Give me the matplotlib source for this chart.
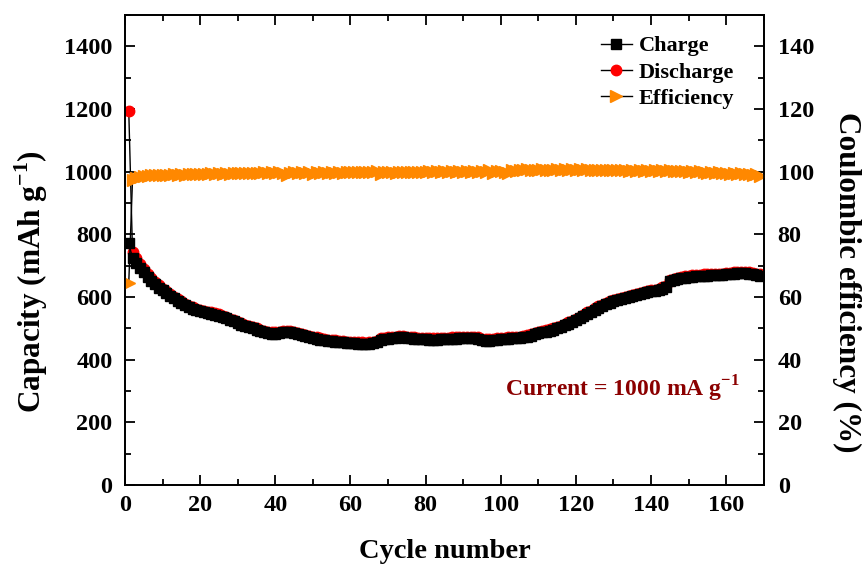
import matplotlib
matplotlib.use('Agg')
import matplotlib.pyplot as plt
from matplotlib.ticker import MultipleLocator
import numpy as np

plt.rcParams['font.family'] = ['Liberation Serif', 'DejaVu Serif']
plt.rcParams['font.weight'] = 'bold'
plt.rcParams['mathtext.fontset'] = 'custom'
plt.rcParams['mathtext.rm'] = 'Liberation Serif:bold'
plt.rcParams['mathtext.bf'] = 'Liberation Serif:bold'

# cycle-wise values
charge = [771, 725, 710, 693, 680, 665, 652, 641, 630, 621,
          612, 604, 596, 588, 581, 574, 568, 563, 559, 555,
          552, 549, 547, 544, 541, 537, 532, 527, 522, 517,
          512, 508, 504, 500, 496, 492, 488, 485, 483, 483,
          485, 487, 488, 487, 485, 482, 479, 476, 473, 470,
          467, 464, 462, 460, 459, 458, 456, 455, 454, 453,
          452, 451, 451, 450, 451, 453, 455, 464, 466, 467,
          468, 470, 471, 471, 469, 468, 467, 466, 466, 465,
          464, 464, 464, 465, 466, 466, 467, 467, 468, 468,
          469, 470, 469, 467, 463, 461, 461, 462, 464, 465,
          466, 467, 468, 469, 470, 471, 474, 477, 482, 486,
          488, 490, 493, 496, 500, 505, 510, 515, 521, 527,
          533, 540, 547, 553, 560, 566, 572, 577, 582, 586,
          590, 594, 597, 600, 604, 607, 610, 612, 615, 618,
          620, 623, 627, 632, 650, 655, 658, 660, 662, 663,
          665, 666, 667, 668, 668, 669, 669, 670, 671, 672,
          673, 675, 676, 677, 677, 675, 673, 670, 668]

discharge = [1195, 745, 724, 704, 690, 674, 660, 648, 637, 627,
             618, 610, 601, 593, 586, 579, 573, 568, 563, 559,
             556, 553, 551, 548, 545, 541, 536, 531, 526, 521,
             516, 512, 508, 504, 500, 496, 492, 489, 487, 487,
             489, 491, 492, 491, 489, 486, 483, 480, 477, 474,
             471, 468, 466, 464, 463, 462, 460, 459, 458, 457,
             456, 455, 455, 454, 455, 457, 459, 468, 470, 471,
             472, 474, 475, 475, 473, 472, 471, 470, 470, 469,
             468, 468, 468, 469, 470, 470, 471, 471, 472, 472,
             473, 474, 473, 471, 467, 465, 465, 466, 468, 469,
             470, 471, 472, 473, 474, 475, 478, 481, 486, 490,
             492, 494, 497, 500, 504, 509, 514, 519, 525, 531,
             537, 544, 551, 557, 564, 570, 576, 581, 586, 590,
             594, 598, 601, 604, 608, 611, 614, 616, 619, 622,
             624, 627, 631, 636, 654, 659, 662, 664, 666, 667,
             669, 670, 671, 672, 672, 673, 673, 674, 675, 676,
             677, 679, 680, 681, 681, 679, 677, 674, 672]

efficiency = [64.5, 97.3, 98.0, 98.4, 98.6, 98.7, 98.8, 98.9, 98.9, 99.0,
              99.1, 98.9, 99.2, 99.0, 99.3, 99.1, 99.3, 99.2, 99.4, 99.2,
              99.4, 99.3, 99.5, 99.3, 99.5, 99.4, 99.6, 99.4, 99.6, 99.5,
              99.7, 99.5, 99.7, 99.5, 99.7, 99.6, 99.8, 99.6, 99.8, 99.6,
              99.9, 99.7, 99.1, 99.7, 99.8, 99.6, 99.8, 99.7, 99.9, 99.3,
              99.8, 99.6, 99.8, 99.7, 99.9, 99.7, 99.9, 99.7, 99.9, 99.8,
              100.0, 99.8, 100.0, 99.8, 100.0, 99.8, 100.2, 99.4, 99.9, 99.8,
              100.0, 99.5, 99.9, 99.8, 100.0, 99.8, 100.0, 99.8, 100.0, 99.9,
              100.1, 99.9, 100.1, 99.9, 100.1, 99.9, 100.1, 100.0, 100.2, 100.0,
              100.2, 100.0, 100.2, 100.0, 100.2, 100.0, 100.6, 99.7, 100.3, 100.2,
              100.0, 99.6, 100.4, 100.2, 100.6, 100.4, 100.7, 100.4, 100.6, 100.4,
              100.7, 100.4, 100.6, 100.4, 100.7, 100.5, 100.7, 100.5, 100.7, 100.5,
              100.7, 100.5, 100.7, 100.5, 100.6, 100.4, 100.6, 100.4, 100.6, 100.4,
              100.6, 100.4, 100.5, 100.3, 100.5, 100.3, 100.6, 100.3, 100.5, 100.3,
              100.4, 100.2, 100.4, 100.2, 100.4, 100.1, 100.3, 100.1, 100.3, 100.0,
              100.2, 100.0, 100.1, 99.9, 99.5, 99.8, 99.6, 99.8, 99.5, 99.7,
              99.4, 99.6, 99.3, 99.5, 99.2, 99.3, 99.0, 99.2, 98.5]

cycles = np.arange(1, len(charge) + 1)

fig = plt.figure(figsize=(8.65, 5.68), dpi=100)
ax = fig.add_axes([0.1445, 0.146, 0.7385, 0.8276])
ax2 = ax.twinx()

l_dis, = ax.plot(cycles, discharge, color='black', lw=1, marker='o', ms=7.5,
                 mfc='red', mec='red', label='Discharge', zorder=2)
l_ch, = ax.plot(cycles, charge, color='black', lw=1, marker='s', ms=7.5,
                mfc='black', mec='black', label='Charge', zorder=3)
l_eff, = ax2.plot(cycles, efficiency, color='black', lw=1, marker='>', ms=8.5,
                  mfc='#FF8800', mec='#FF8800', label='Efficiency')

ax.set_xlim(0, 170)
ax.set_ylim(0, 1500)
ax2.set_ylim(0, 150)

ax.xaxis.set_major_locator(MultipleLocator(20))
ax.xaxis.set_minor_locator(MultipleLocator(10))
ax.yaxis.set_minor_locator(MultipleLocator(100))
ax2.yaxis.set_minor_locator(MultipleLocator(10))
ax.set_yticks(np.arange(0, 1401, 200))
ax2.set_yticks(np.arange(0, 141, 20))

for a in (ax, ax2):
    for s in a.spines.values():
        s.set_linewidth(1.3)
ax.tick_params(which='both', direction='in', top=True, width=1.3, labelsize=17.5)
ax.tick_params(which='major', length=7)
ax.tick_params(which='minor', length=4)
ax.tick_params(axis='y', right=False, pad=9)
ax.tick_params(axis='x', pad=7)
ax2.tick_params(which='both', direction='in', width=1.3, labelsize=17.5, pad=10)
ax2.tick_params(which='major', length=7)
ax2.tick_params(which='minor', length=4)

ax.set_xlabel('Cycle number', fontsize=20.5, fontweight='bold', labelpad=17)
ax.set_ylabel(r'Capacity (mAh g$^{\mathbf{-1}}$)', fontsize=22.5, fontweight='bold',
              labelpad=10, y=0.432)
ax2.set_ylabel('Coulombic efficiency (%)', fontsize=22.5, fontweight='bold',
               rotation=270, labelpad=34, y=0.432)

ax.text(101, 308, r'Current = 1000 mA g$^{\mathbf{-1}}$', color='#8B0000',
        fontsize=17, fontweight='bold', va='center', ha='left')

leg = ax2.legend([l_ch, l_dis, l_eff], ['Charge', 'Discharge', 'Efficiency'],
                 loc='upper right', bbox_to_anchor=(0.985, 0.998), frameon=False,
                 handlelength=1.4, handletextpad=0.3, labelspacing=0.25,
                 prop={'weight': 'bold', 'size': 16})

fig.savefig('out.png', dpi=100)
